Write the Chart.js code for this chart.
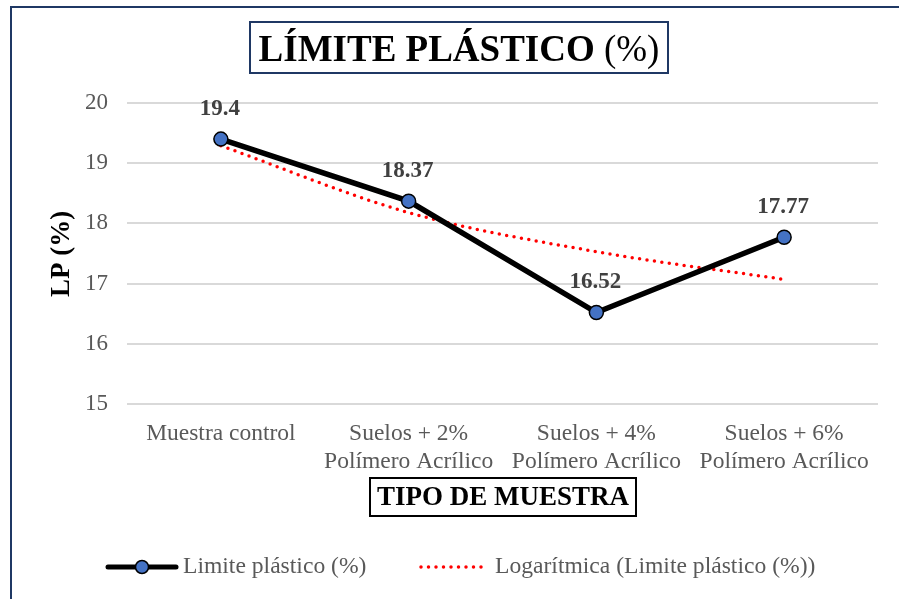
<!DOCTYPE html>
<html>
<head>
<meta charset="utf-8">
<script src="https://cdn.jsdelivr.net/npm/chart.js@4/dist/chart.umd.min.js"></script>
<style>
  html, body { margin: 0; padding: 0; background: #fff; }
  #wrap { width: 899px; height: 599px; position: relative; }
</style>
</head>
<body>
<div id="wrap"><canvas id="myChart" width="899" height="599"></canvas></div>
<script>
// Categories and values
const categories = [
  "Muestra control",
  ["Suelos + 2%", "Polímero Acrílico"],
  ["Suelos + 4%", "Polímero Acrílico"],
  ["Suelos + 6%", "Polímero Acrílico"]
];
const limitePlastico = [19.4, 18.37, 16.52, 17.77];
const logTrend = [19.29, 18.18, 17.53, 17.07];
const yTicks = [15, 16, 17, 18, 19, 20];

const serif = "'Liberation Serif', 'Times New Roman', serif";
const navy = '#1f3864';

// Borders, titles, data labels and the legend drawn on the canvas
const decorations = {
  id: 'decorations',
  afterDraw(chart) {
    const ctx = chart.ctx;
    ctx.save();

    // outer frame
    ctx.strokeStyle = navy;
    ctx.lineWidth = 2;
    ctx.strokeRect(11, 7, 1000, 1000);

    // title box
    ctx.strokeStyle = navy;
    ctx.lineWidth = 2;
    ctx.strokeRect(250, 22, 418, 51);
    ctx.fillStyle = '#000';
    ctx.textBaseline = 'alphabetic';
    ctx.font = 'bold 37px ' + serif;
    const t1 = 'LÍMITE PLÁSTICO';
    const w1 = ctx.measureText(t1).width;
    ctx.font = '37px ' + serif;
    const t2 = ' (%)';
    const w2 = ctx.measureText(t2).width;
    let x0 = 459 - (w1 + w2) / 2;
    ctx.font = 'bold 37px ' + serif;
    ctx.textAlign = 'left';
    ctx.fillText(t1, x0, 61);
    ctx.font = '37px ' + serif;
    ctx.fillText(t2, x0 + w1, 61);

    // x axis title box
    ctx.strokeStyle = '#000';
    ctx.lineWidth = 2;
    ctx.strokeRect(370, 478, 266, 38);
    ctx.font = 'bold 27px ' + serif;
    ctx.textAlign = 'center';
    ctx.textBaseline = 'middle';
    ctx.fillText('TIPO DE MUESTRA', 503, 498);

    // y axis title
    ctx.save();
    ctx.translate(62, 254);
    ctx.rotate(-Math.PI / 2);
    ctx.font = 'bold 27px ' + serif;
    ctx.fillText('LP (%)', 0, 0);
    ctx.restore();

    // data labels
    const meta = chart.getDatasetMeta(0);
    ctx.font = 'bold 23px ' + serif;
    ctx.fillStyle = '#404040';
    ctx.textAlign = 'center';
    ctx.textBaseline = 'middle';
    meta.data.forEach((pt, i) => {
      ctx.fillText(String(limitePlastico[i]), pt.x - 1, pt.y - 30);
    });

    // legend
    const ly = 567;
    ctx.strokeStyle = '#000';
    ctx.lineWidth = 5;
    ctx.lineCap = 'round';
    ctx.beginPath();
    ctx.moveTo(108, ly);
    ctx.lineTo(176, ly);
    ctx.stroke();
    ctx.beginPath();
    ctx.arc(142, ly, 6.5, 0, Math.PI * 2);
    ctx.fillStyle = '#4472c4';
    ctx.fill();
    ctx.lineWidth = 1.5;
    ctx.stroke();
    ctx.font = '23.6px ' + serif;
    ctx.fillStyle = '#595959';
    ctx.textAlign = 'left';
    ctx.fillText('Limite plástico (%)', 183, ly);

    ctx.strokeStyle = '#ff0000';
    ctx.lineWidth = 3.5;
    ctx.setLineDash([0, 7.5]);
    ctx.beginPath();
    ctx.moveTo(421, ly);
    ctx.lineTo(488, ly);
    ctx.stroke();
    ctx.setLineDash([]);
    ctx.fillText('Logarítmica (Limite plástico (%))', 495, ly);

    ctx.restore();
  }
};

const config = {
  type: 'line',
  data: {
    labels: categories,
    datasets: [
      {
        label: 'Limite plástico (%)',
        data: limitePlastico,
        borderColor: '#000',
        borderWidth: 5.5,
        backgroundColor: '#4472c4',
        pointBackgroundColor: '#4472c4',
        pointBorderColor: '#000',
        pointBorderWidth: 1.5,
        pointRadius: 7,
        tension: 0,
        order: 0
      },
      {
        label: 'Logarítmica (Limite plástico (%))',
        data: logTrend,
        borderColor: '#ff0000',
        borderWidth: 3.5,
        borderDash: [0, 7.5],
        borderCapStyle: 'round',
        pointRadius: 0,
        cubicInterpolationMode: 'monotone',
        fill: false,
        order: 1
      }
    ]
  },
  options: {
    responsive: false,
    animation: false,
    layout: { padding: { top: 103, right: 21, bottom: 0, left: 0 } },
    plugins: {
      legend: { display: false },
      tooltip: { enabled: false }
    },
    scales: {
      x: {
        offset: true,
        grid: { display: false, drawTicks: false },
        border: { display: false },
        ticks: {
          color: '#595959',
          font: { family: serif, size: 23.5, lineHeight: 1.18 },
          padding: 16,
          maxRotation: 0,
          autoSkip: false
        },
        afterFit(scale) { scale.height = 195; }
      },
      y: {
        min: 15,
        max: 20,
        afterBuildTicks(scale) { scale.ticks = yTicks.map(v => ({ value: v })); },
        grid: { color: '#d9d9d9', lineWidth: 2, drawTicks: false },
        border: { display: false },
        ticks: {
          color: '#595959',
          font: { family: serif, size: 23 },
          padding: 19
        },
        afterFit(scale) { scale.width = 127; }
      }
    }
  },
  plugins: [decorations]
};

const ctx = document.getElementById('myChart').getContext('2d');
new Chart(ctx, config);
</script>
</body>
</html>
